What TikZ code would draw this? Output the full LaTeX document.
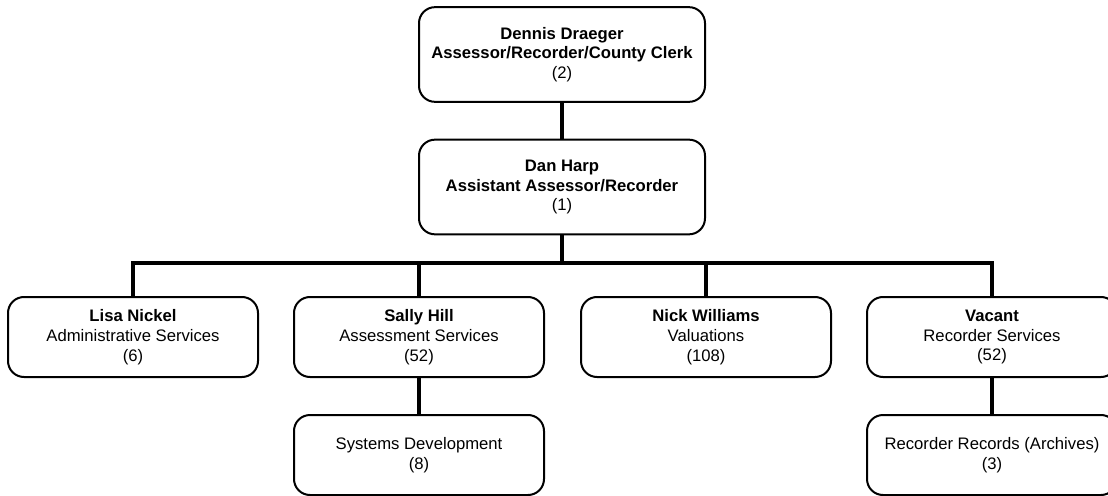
\documentclass[tikz,border=0pt]{standalone}
\usepackage{fontspec}
\setmainfont{Liberation Sans}
\usetikzlibrary{positioning}

\begin{document}
\begin{tikzpicture}[
  x=0.75pt,
  y=-0.75pt,
  every node/.style={font=\fontsize{12.5pt}{14.8pt}\selectfont, align=center, inner sep=1pt},
  post/.style={draw, line width=1.5pt, rounded corners=12pt,
    minimum width=187.5pt, minimum height=60pt},
  chief/.style={post, minimum width=214.5pt, minimum height=71pt},
  link/.style={line width=3pt}
]
  \useasboundingbox (0,0) rectangle (1108,496);
  \clip (0,0) rectangle (1108,496);

  % ---- the head of the office ------------------------------------------
  \node[chief] (draeger) at (562,54.5)
    {\textbf{Dennis Draeger}\\ \textbf{Assessor/Recorder/County Clerk}\\ (2)};
  \node[chief] (harp) at (562,187)
    {\textbf{Dan Harp}\\ \textbf{Assistant Assessor/Recorder}\\ (1)};

  % ---- the four divisions ------------------------------------------------
  \node[post] (nickel) at (133,337)
    {\textbf{Lisa Nickel}\\ Administrative Services\\ (6)};
  \node[post] (hill) at (419,337)
    {\textbf{Sally Hill}\\ Assessment Services\\ (52)};
  \node[post] (williams) at (706,337)
    {\textbf{Nick Williams}\\ Valuations\\ (108)};
  \node[post] (vacant) at (992,337)
    {\textbf{Vacant}\\ Recorder Services\\ (52)};

  % ---- units under a division --------------------------------------------
  \node[post] (systems) at (419,455) {Systems Development\\ (8)};
  \node[post] (archives) at (992,455) {Recorder Records (Archives)\\ (3)};

  % ---- reporting lines ---------------------------------------------------
  \coordinate (bar) at (562,263);
  \draw[link] (draeger) -- (harp);
  \draw[link] (harp) -- (bar);
  \draw[link] (nickel.north) |- (bar) -| (vacant.north);
  \draw[link] (bar -| hill.north) -- (hill.north);
  \draw[link] (bar -| williams.north) -- (williams.north);
  \draw[link] (hill) -- (systems);
  \draw[link] (vacant) -- (archives);
\end{tikzpicture}
\end{document}
